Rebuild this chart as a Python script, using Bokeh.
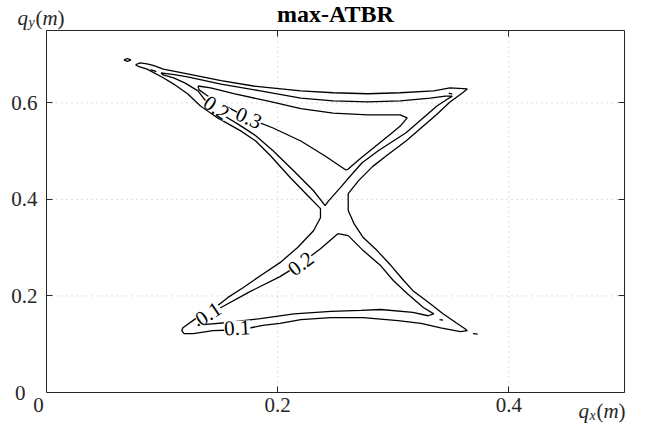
from bokeh.plotting import figure
from bokeh.models import Range1d, FixedTicker, Label, LabelSet, ColumnDataSource, LinearAxis
from bokeh.core.properties import value
from bokeh.embed import file_html
from bokeh.resources import INLINE

# ---------------- data ----------------
x_ticks = [0, 0.2, 0.4]
y_ticks = [0, 0.2, 0.4, 0.6]
x_tick_labels = ["0", "0.2", "0.4"]
y_tick_labels = ["0", "0.2", "0.4", "0.6"]
x_max, y_max = 0.5, 0.75

# level 0.1 : outer boundary of the X-shaped region
c01_outer_x = [0.077, 0.081, 0.087, 0.093, 0.101, 0.122, 0.151, 0.179, 0.220, 0.248, 0.278, 0.306, 0.335, 0.349, 0.364,
               0.360, 0.349, 0.338, 0.324, 0.311, 0.296, 0.282, 0.270, 0.261,
               0.261, 0.266, 0.274, 0.286, 0.298, 0.309, 0.317, 0.332, 0.343, 0.354, 0.362, 0.364,
               0.358, 0.341, 0.324, 0.304, 0.274, 0.246, 0.220, 0.202, 0.187, 0.168, 0.144, 0.127, 0.119, 0.117,
               0.118, 0.129, 0.140, 0.149, 0.157, 0.170, 0.185, 0.202, 0.217, 0.231, 0.237, 0.237,
               0.228, 0.211, 0.194, 0.181, 0.168, 0.148, 0.133, 0.122, 0.110, 0.101, 0.087, 0.080, 0.077]
c01_outer_y = [0.679, 0.683, 0.681, 0.677, 0.670, 0.660, 0.646, 0.635, 0.625, 0.621, 0.619, 0.621, 0.625, 0.631, 0.629,
               0.621, 0.602, 0.577, 0.548, 0.521, 0.494, 0.468, 0.439, 0.412,
               0.377, 0.350, 0.321, 0.294, 0.263, 0.232, 0.211, 0.184, 0.163, 0.145, 0.132, 0.128,
               0.126, 0.134, 0.143, 0.149, 0.155, 0.155, 0.151, 0.143, 0.139, 0.130, 0.128, 0.122, 0.122, 0.128,
               0.134, 0.153, 0.168, 0.182, 0.197, 0.217, 0.242, 0.269, 0.300, 0.335, 0.362, 0.381,
               0.403, 0.445, 0.490, 0.521, 0.542, 0.569, 0.594, 0.619, 0.639, 0.652, 0.670, 0.675, 0.679]

# level 0.1 : small islands
c01_isl1_x = [0.067, 0.070, 0.073, 0.070, 0.067]
c01_isl1_y = [0.689, 0.692, 0.689, 0.686, 0.689]
c01_isl2_x = [0.369, 0.373]
c01_isl2_y = [0.122, 0.121]
c01_isl3_x = [0.090, 0.095]
c01_isl3_y = [0.669, 0.665]

# level 0.2 : upper triangle
c02_up_x = [0.099, 0.112, 0.122, 0.151, 0.185, 0.220, 0.248, 0.278, 0.306, 0.332, 0.345, 0.351,
            0.347, 0.338, 0.325, 0.311, 0.300, 0.287, 0.273, 0.263, 0.254, 0.244, 0.241,
            0.231, 0.214, 0.196, 0.181, 0.165, 0.151, 0.139, 0.131, 0.120, 0.110, 0.101, 0.099]
c02_up_y = [0.662, 0.658, 0.654, 0.639, 0.625, 0.610, 0.604, 0.602, 0.604, 0.610, 0.614, 0.614,
            0.608, 0.594, 0.567, 0.538, 0.521, 0.501, 0.476, 0.449, 0.424, 0.397, 0.387,
            0.418, 0.459, 0.501, 0.532, 0.557, 0.577, 0.600, 0.625, 0.641, 0.652, 0.658, 0.662]

# level 0.2 : lower triangle
c02_lo_x = [0.252, 0.261, 0.274, 0.289, 0.300, 0.312, 0.326, 0.335, 0.330, 0.317, 0.289, 0.272, 0.246,
            0.214, 0.185, 0.157, 0.138, 0.131, 0.136, 0.144, 0.151, 0.176, 0.202, 0.220, 0.237, 0.252]
c02_lo_y = [0.329, 0.325, 0.294, 0.263, 0.232, 0.205, 0.176, 0.163, 0.159, 0.166, 0.172, 0.170, 0.168,
            0.163, 0.153, 0.145, 0.141, 0.139, 0.153, 0.166, 0.176, 0.209, 0.240, 0.267, 0.298, 0.329]
c02_dot1_x = [0.348, 0.351, 0.348]
c02_dot1_y = [0.620, 0.618, 0.620]
c02_dot2_x = [0.340, 0.343]
c02_dot2_y = [0.151, 0.150]

# level 0.3 : upper triangle
c03_x = [0.131, 0.142, 0.162, 0.191, 0.220, 0.248, 0.278, 0.306, 0.312, 0.306, 0.298, 0.283, 0.272,
         0.261, 0.259, 0.241, 0.220, 0.196, 0.176, 0.159, 0.146, 0.138, 0.132, 0.131]
c03_y = [0.635, 0.631, 0.619, 0.604, 0.588, 0.579, 0.575, 0.575, 0.569, 0.552, 0.536, 0.507, 0.486,
         0.463, 0.461, 0.490, 0.521, 0.548, 0.567, 0.588, 0.604, 0.617, 0.627, 0.635]

# contour labels
label_x = [0.147, 0.175, 0.220, 0.140, 0.165]
label_y = [0.590, 0.569, 0.267, 0.163, 0.134]
label_text = ["0.2", "0.3", "0.2", "0.1", "0.1"]
label_angle = [-35, -24, 37, 34, 3]

# ---------------- layout (pixels) ----------------
W, H = 652, 428
BOX_L, BOX_R, BOX_T, BOX_B = 46, 624, 30, 392
AX = "#262626"
FONT = "Liberation Serif"

sx = (BOX_R - BOX_L) / x_max
sy = (BOX_B - BOX_T) / y_max
xr = Range1d(-BOX_L / sx, (W - BOX_L) / sx)
yr = Range1d(-(H - BOX_B) / sy, BOX_B / sy)

p = figure(width=W, height=H, output_backend="svg", toolbar_location=None, title=None,
           x_range=xr, y_range=yr, x_axis_location=None, y_axis_location=None,
           min_border=0, min_border_left=0, min_border_right=0, min_border_top=0, min_border_bottom=0)
p.background_fill_color = "white"
p.border_fill_color = "white"
p.outline_line_color = None
p.xgrid.visible = False
p.ygrid.visible = False

# grid (dotted) at the tick positions, inside the box
p.segment(x0=x_ticks[1:], y0=[0] * (len(x_ticks) - 1), x1=x_ticks[1:], y1=[y_max] * (len(x_ticks) - 1),
          line_color="#bdbdbd", line_dash="1 4", line_width=1)
p.segment(x0=[0] * (len(y_ticks) - 1), y0=y_ticks[1:], x1=[x_max] * (len(y_ticks) - 1), y1=y_ticks[1:],
          line_color="#bdbdbd", line_dash="1 4", line_width=1)

def make_axis(ticks, labs, loc, bounds, standoff, show_labels):
    ax = LinearAxis(ticker=FixedTicker(ticks=ticks), fixed_location=loc, bounds=bounds,
                    axis_line_color=AX, axis_line_width=1, major_tick_line_color=AX,
                    major_tick_in=6, major_tick_out=0, minor_tick_line_color=None,
                    major_label_text_font=FONT, major_label_text_font_size="21px",
                    major_label_standoff=standoff)
    if show_labels:
        ax.major_label_overrides = {t: l for t, l in zip(ticks, labs)}
        ax.major_label_text_color = AX
    else:
        ax.major_label_text_color = None
    return ax

# the "0" labels sit off their ticks (MATLAB corner style) -> drawn separately below
p.add_layout(make_axis(x_ticks[1:], x_tick_labels[1:], 0, (0, x_max), 5, True), "below")
p.add_layout(make_axis(y_ticks[1:], y_tick_labels[1:], 0, (0, y_max), 9, True), "left")
p.add_layout(make_axis(x_ticks, x_tick_labels, y_max, (0, x_max), 5, False), "above")
p.add_layout(make_axis(y_ticks, y_tick_labels, x_max, (0, y_max), 9, False), "right")

p.add_layout(Label(x=x_ticks[0], y=0, x_offset=-8, y_offset=-5, text=x_tick_labels[0], text_font=FONT,
                   text_font_size="21px", text_color=AX, text_align="center", text_baseline="top"))
p.add_layout(Label(x=0, y=y_ticks[0], x_offset=-21, text=y_tick_labels[0], text_font=FONT,
                   text_font_size="21px", text_color=AX, text_align="right", text_baseline="middle"))

xs = [c01_outer_x, c01_isl1_x, c01_isl2_x, c01_isl3_x, c02_up_x, c02_lo_x, c02_dot1_x, c02_dot2_x, c03_x]
ys = [c01_outer_y, c01_isl1_y, c01_isl2_y, c01_isl3_y, c02_up_y, c02_lo_y, c02_dot1_y, c02_dot2_y, c03_y]
p.multi_line(xs=xs, ys=ys, line_color="black", line_width=1.3)

src = ColumnDataSource(dict(x=label_x, y=label_y, text=label_text, angle=label_angle))
p.add_layout(LabelSet(x="x", y="y", text="text", angle="angle", angle_units="deg", source=src,
                      text_align="center", text_baseline="middle", text_font=value(FONT),
                      text_font_size="21px", text_color="black", background_fill_color="white"))

# title
p.add_layout(Label(x=x_max / 2, y=y_max, y_offset=17, text="max-ATBR", text_font=FONT,
                   text_font_style="bold", text_font_size="24px", text_color="black",
                   text_align="center", text_baseline="alphabetic"))

def math_label(x0, y0, pieces):
    for txt, dx, dy, size, style in pieces:
        p.add_layout(Label(x=x0, y=y0, x_offset=dx, y_offset=dy, text=txt,
                           text_font=FONT, text_font_style=style, text_font_size=size,
                           text_color=AX, text_align="left", text_baseline="alphabetic"))

math_label(0, y_max, [("q", -29, 13, "21px", "italic"), ("y", -18, 8, "14px", "italic"),
                      ("(", -11, 13, "21px", "normal"), ("m", -4, 13, "21px", "italic"),
                      (")", 11, 13, "21px", "normal")])
math_label(x_max, 0, [("q", -46, -18, "21px", "italic"), ("x", -35, -23, "14px", "italic"),
                      ("(", -28, -18, "21px", "normal"), ("m", -21, -18, "21px", "italic"),
                      (")", -6, -18, "21px", "normal")])

open("out.html", "w").write(file_html(p, INLINE))
